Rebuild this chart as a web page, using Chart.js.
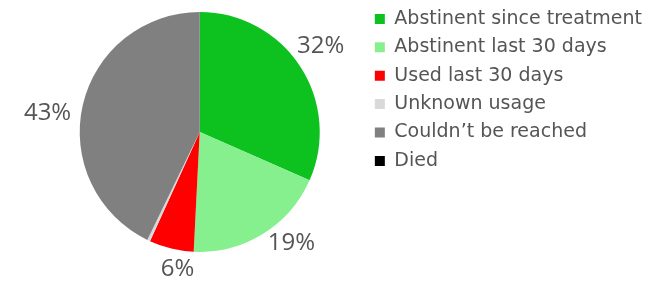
<!DOCTYPE html>
<html>
<head>
<meta charset="utf-8">
<script src="https://cdn.jsdelivr.net/npm/chart.js@4.4.1/dist/chart.umd.min.js"></script>
<style>
  html, body { margin: 0; padding: 0; background: #fff; }
  #wrap { width: 652px; height: 282px; position: relative; }
</style>
</head>
<body>
<div id="wrap"><canvas id="pieChart"></canvas></div>
<script>
// categories + values (percent of people followed up)
const categories = [
  "Abstinent since treatment",
  "Abstinent last 30 days",
  "Used last 30 days",
  "Unknown usage",
  "Couldn’t be reached",
  "Died"
];
const shares = [31.6, 19.2, 6.0, 0.4, 42.8, 0];
const sliceColors = ["#0dc11f", "#86f08f", "#ff0000", "#d9d9d9", "#808080", "#000000"];

// percent labels drawn outside the pie, nudged a bit counter-clockwise like the original
const outsideLabels = {
  id: "outsideLabels",
  afterDatasetsDraw(chart) {
    const ctx = chart.ctx;
    const arcs = chart.getDatasetMeta(0).data;
    ctx.save();
    ctx.font = "24px 'Open Sans', sans-serif";
    ctx.fillStyle = "#555";
    ctx.textAlign = "center";
    ctx.textBaseline = "middle";
    arcs.forEach((arc, i) => {
      const v = shares[i];
      if (v < 1) return;
      const txt = Math.round(v) + "%";
      const mid = (arc.startAngle + arc.endAngle) / 2 - 5 * Math.PI / 180;
      const w = ctx.measureText(txt).width;
      const h = 18;
      const r = arc.outerRadius + 10;
      const x = arc.x + Math.cos(mid) * r + Math.cos(mid) * w / 2;
      const y = arc.y + Math.sin(mid) * r + Math.sin(mid) * h / 2;
      ctx.fillText(txt, x, y);
    });
    ctx.restore();
  }
};

const ctx = document.getElementById("pieChart").getContext("2d");
new Chart(ctx, {
  type: "pie",
  data: {
    labels: categories,
    datasets: [{
      data: shares,
      backgroundColor: sliceColors,
      borderWidth: 0,
      radius: 120
    }]
  },
  options: {
    responsive: true,
    maintainAspectRatio: false,
    animation: false,
    layout: { padding: { left: 34, top: 0, bottom: 18, right: 0 } },
    plugins: {
      legend: {
        position: "right",
        align: "start",
        labels: {
          boxWidth: 10,
          boxHeight: 10,
          padding: 9.4,
          color: "#555",
          font: { family: "'DejaVu Sans', sans-serif", size: 19 }
        }
      },
      tooltip: { enabled: false }
    }
  },
  plugins: [outsideLabels]
});
</script>
</body>
</html>
